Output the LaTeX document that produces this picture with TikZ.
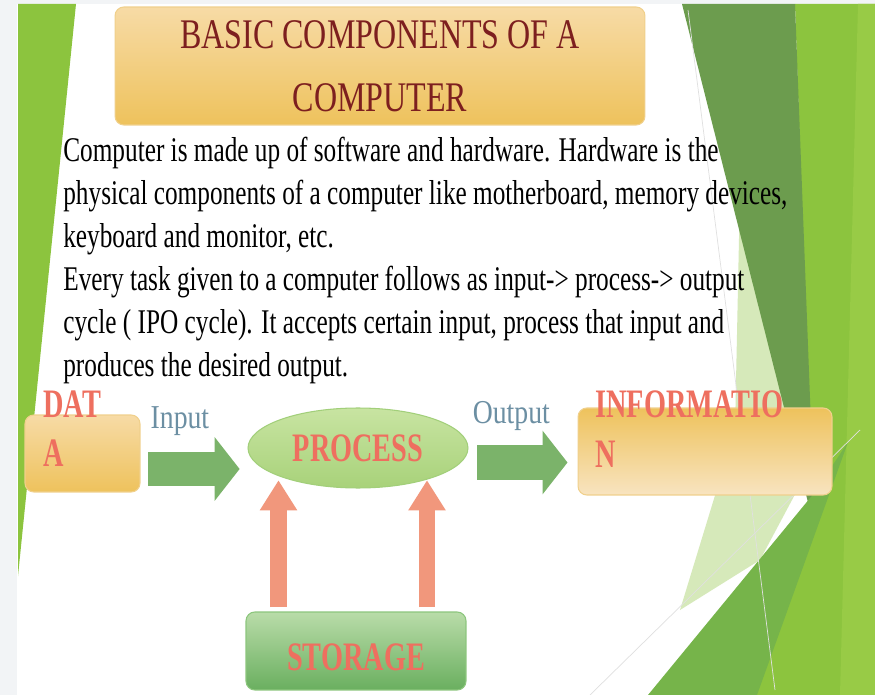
\documentclass[tikz,border=0pt]{standalone}
\usepackage{fontspec}
\setmainfont{Liberation Serif}
\newfontfamily\bodyfont{Liberation Serif}[FakeStretch=0.73]
\newfontfamily\titlefont{Liberation Serif}[FakeStretch=0.76]
\newfontfamily\boxfont{Liberation Serif}[FakeStretch=0.7]
\newfontfamily\tagfont{Liberation Serif}[FakeStretch=0.83]
\usetikzlibrary{shapes.geometric,arrows.meta}

\definecolor{margin}{HTML}{F2F4F6}
\definecolor{lime}{HTML}{8CC43E}
\definecolor{limebright}{HTML}{98CB46}
\definecolor{darkgreen}{HTML}{6C9C4E}
\definecolor{midgreen}{HTML}{76B44A}
\definecolor{palegreen}{HTML}{D6E9BA}
\definecolor{titlered}{HTML}{7D1F1F}
\definecolor{salmon}{HTML}{EE6F5F}
\definecolor{tagblue}{HTML}{6C8FA3}
\definecolor{peachlight}{HTML}{F7DBA6}
\definecolor{orangedark}{HTML}{EEC25C}
\definecolor{peachpale}{HTML}{F8E4C0}
\definecolor{boxedge}{HTML}{F0D08C}
\definecolor{proctop}{HTML}{C8E4A2}
\definecolor{procbottom}{HTML}{A8D27A}
\definecolor{procedge}{HTML}{A2CF7A}
\definecolor{storetop}{HTML}{B9DCA9}
\definecolor{storebottom}{HTML}{6AAF5F}
\definecolor{storeedge}{HTML}{8CC67D}
\definecolor{flowgreen}{HTML}{7BB36A}
\definecolor{upsalmon}{HTML}{F1977C}

\tikzset{
  roundbox/.style={rectangle, rounded corners=5pt, line width=0.6pt, inner sep=0pt},
  titlebox/.style={roundbox, draw=boxedge, top color=peachlight, bottom color=orangedark,
    minimum width=10.6cm, minimum height=2.36cm, align=center, text=titlered,
    font=\titlefont\fontsize{24}{35.7}\selectfont},
  databox/.style={roundbox, draw=boxedge, top color=peachlight, bottom color=orangedark,
    minimum width=2.3cm, minimum height=1.54cm},
  infobox/.style={roundbox, draw=boxedge, top color=orangedark, bottom color=peachpale,
    minimum width=5.08cm, minimum height=1.74cm},
  storebox/.style={roundbox, draw=storeedge, top color=storetop, bottom color=storebottom,
    minimum width=4.4cm, minimum height=1.56cm, text=salmon, text height=22pt, text depth=0pt,
    font=\boxfont\bfseries\fontsize{23}{28.4}\selectfont},
  procell/.style={ellipse, draw=procedge, line width=0.6pt, top color=proctop, bottom color=procbottom,
    minimum width=4.4cm, minimum height=1.6cm, inner sep=0pt, text=salmon,
    font=\boxfont\bfseries\fontsize{23}{28.4}\selectfont},
  boxlabel/.style={font=\boxfont\bfseries\fontsize{23}{28.4}\selectfont, text=salmon,
    align=left, inner sep=0pt},
  bodytext/.style={font=\bodyfont\fontsize{19.7}{24.5}\selectfont, align=left, inner sep=0pt},
  tag/.style={font=\tagfont\fontsize{19}{23}\selectfont, text=tagblue, inner sep=0pt},
  flow/.style={draw=flowgreen, line width=19.8pt,
    -{Triangle[length=14.2pt,width=36.3pt,line width=0pt]}},
  upflow/.style={draw=upsalmon, line width=9.6pt,
    -{Triangle[length=17pt,width=21.5pt,line width=0pt]}},
}

\begin{document}
\begin{tikzpicture}[x=0.02cm, y=-0.02cm]
  \useasboundingbox (0,0) rectangle (875,695);
  % Fond
  \fill[margin] (0,0) rectangle (875,695);
  \fill[white] (17,4) rectangle (875,695);
  \fill[lime] (18,4) -- (76,4) -- (18,576) -- cycle;
  \fill[lime] (795,4) -- (875,4) -- (875,695) -- (700,695) -- (812,500) -- cycle;
  \fill[limebright] (858,4) -- (875,4) -- (875,695) -- (840,695) -- cycle;
  \fill[palegreen] (740,190) -- (808,470) -- (760,560) -- (680,610) -- (735,430) -- cycle;
  \fill[darkgreen] (682,4) -- (795,4) -- (815,530) -- cycle;
  \fill[midgreen] (648,695) -- (815,492) -- (848,442) -- (757,695) -- cycle;
  \draw[black!12, line width=0.4pt] (688,10) -- (775,690);
  \draw[black!12, line width=0.4pt] (590,695) -- (860,430);

  % Titre et texte
  \node[titlebox] (title) at (380,66) {BASIC COMPONENTS OF A\\COMPUTER};
  \node[bodytext, anchor=north west] (intro) at (63,137) {Computer is made up of software and hardware. Hardware is the\\
    physical components of a computer like motherboard, memory devices,\\
    keyboard and monitor, etc.\\
    Every task given to a computer follows as input-> process-> output\\
    cycle ( IPO cycle). It accepts certain input, process that input and\\
    produces the desired output.};

  % Noeuds du diagramme
  \node[databox] (data) at (82.5,453.5) {};
  \node[boxlabel, anchor=north west] (datatxt) at (43,390) {DAT\\A};
  \node[procell] (process) at (358,448) {PROCESS};
  \node[infobox] (info) at (705,451.5) {};
  \node[boxlabel, anchor=north west] (infotxt) at (595,390) {INFORMATIO\\N};
  \node[storebox] (storage) at (356,651) {STORAGE};

  % Fleches
  \draw[flow, shorten <=4.5pt, shorten >=4.5pt] (data.east |- 0,469) -- (process.west |- 0,469)
    node[tag, pos=0.11, anchor=base west, xshift=-10.8pt, yshift=23.2pt] (lblin) {Input};
  \draw[flow, shorten <=5.1pt, shorten >=5.7pt] (process.east |- 0,462.5) -- (info.west |- 0,462.5)
    node[tag, pos=0.045, anchor=base west, xshift=-10.2pt, yshift=22.4pt] (lblout) {Output};
  \draw[upflow, shorten <=2.5pt, shorten >=-4.5pt] (storage.north -| 278.5,0) -- (process.south -| 278.5,0);
  \draw[upflow, shorten <=2.5pt, shorten >=-4.5pt] (storage.north -| 427,0) -- (process.south -| 427,0);
\end{tikzpicture}
\end{document}
